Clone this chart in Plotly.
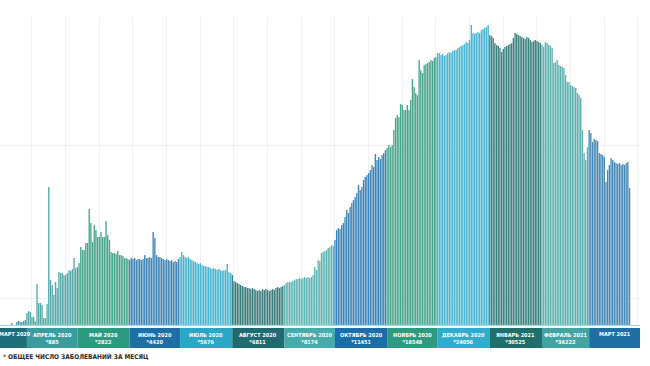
import pandas as pd
import plotly.graph_objects as go

# ---- daily values (arbitrary units) ----
mar20 = [2, 0, 0, 3, 4, 3, 3, 4, 5]  # from 23 March
apr20 = [12, 14, 13, 8, 8, 4, 41, 22, 22, 20, 7, 7, 21, 138, 45, 40, 30, 43, 37, 53,
         52, 52, 50, 50, 52, 55, 54, 56, 67, 57]
may20 = [58, 62, 78, 75, 75, 82, 82, 116, 102, 83, 100, 95, 88, 88, 93, 88, 88, 104, 90, 85,
         73, 72, 72, 71, 74, 70, 70, 69, 67, 67, 66]
jun20 = [65, 67, 66, 67, 65, 66, 66, 65, 66, 70, 67, 67, 68, 67, 93, 87, 70, 68, 68, 67,
         66, 65, 66, 65, 64, 65, 63, 64, 63, 66]
jul20 = [68, 73, 70, 68, 67, 68, 66, 65, 64, 63, 62, 61, 62, 60, 59, 59, 58, 58, 57, 56,
         57, 56, 55, 56, 55, 54, 55, 55, 61, 53, 52]
aug20 = [50, 44, 43, 42, 41, 40, 39, 38, 38, 37, 37, 36, 37, 36, 35, 34, 35, 34, 36, 35,
         36, 35, 34, 35, 36, 35, 37, 38, 37, 38, 39]
sep20 = [40, 42, 43, 43, 43, 44, 45, 46, 46, 47, 46, 47, 48, 47, 48, 47, 48, 50, 58, 55,
         65, 64, 72, 73, 74, 75, 77, 78, 80, 79]
oct20 = [85, 95, 97, 96, 100, 102, 108, 115, 112, 118, 122, 125, 128, 132, 140, 135, 138, 145, 148, 150,
         152, 155, 160, 158, 171, 165, 168, 166, 170, 172, 175]
nov20 = [177, 180, 178, 180, 195, 207, 210, 208, 221, 220, 215, 215, 220, 215, 225, 246, 238, 232, 230, 265,
         255, 252, 260, 261, 262, 263, 265, 264, 267, 268]
dec20 = [272, 272, 270, 271, 269, 270, 272, 273, 272, 274, 275, 275, 277, 278, 279, 280, 281, 283, 282, 285,
         300, 292, 291, 292, 293, 292, 295, 296, 297, 298, 300]
jan21 = [290, 289, 287, 282, 280, 279, 277, 273, 276, 278, 279, 280, 281, 282, 287, 292, 291, 290, 289, 288,
         287, 286, 288, 287, 285, 283, 284, 285, 284, 283, 282]
feb21 = [280, 278, 283, 282, 280, 279, 277, 262, 263, 265, 260, 259, 258, 257, 250, 243, 243, 240, 239, 238,
         237, 232, 230, 227, 195, 172, 165, 178]
mar21 = [195, 192, 183, 186, 185, 184, 172, 171, 170, 168, 143, 155, 160, 167, 165, 163, 162, 161, 162, 160,
         161, 160, 162, 163, 137]

series_starts = ["2020-03-23", "2020-04-01", "2020-05-01", "2020-06-01", "2020-07-01", "2020-08-01",
                 "2020-09-01", "2020-10-01", "2020-11-01", "2020-12-01", "2021-01-01", "2021-02-01",
                 "2021-03-01"]
series_values = [mar20, apr20, may20, jun20, jul20, aug20, sep20, oct20, nov20, dec20, jan21, feb21, mar21]

month_names = ["МАРТ 2020", "АПРЕЛЬ 2020", "МАЙ 2020", "ИЮНЬ 2020", "ИЮЛЬ 2020", "АВГУСТ 2020",
               "СЕНТЯБРЬ 2020", "ОКТЯБРЬ 2020", "НОЯБРЬ 2020", "ДЕКАБРЬ 2020", "ЯНВАРЬ 2021",
               "ФЕВРАЛЬ 2021", "МАРТ 2021"]
month_totals = ["", "*885", "*2822", "*4420", "*5676", "*6811", "*8174", "*11451", "*18548",
                "*24056", "*30525", "*36222", ""]
month_starts = ["2020-03-01", "2020-04-01", "2020-05-01", "2020-06-01", "2020-07-01", "2020-08-01",
                "2020-09-01", "2020-10-01", "2020-11-01", "2020-12-01", "2021-01-01", "2021-02-01",
                "2021-03-01", "2021-04-01"]

band_colors = ["#1e6d7b", "#3a9c9e", "#2d997f", "#1d6fa6", "#2aa6c6", "#1f6b6f", "#45abab",
               "#1b6ea7", "#2e9a7f", "#2eadcf", "#1f6e6b", "#44a4a4", "#1f6fa6"]
bar_colors = ["#3a8a95", "#43a0a0", "#349c7e", "#2c78ad", "#35adcb", "#276f6e", "#4eafab",
              "#2877b0", "#349c7f", "#37aece", "#287470", "#4caaa8", "#327bae"]

# ---- build daily bars ----
xs, ys, cs = [], [], []
for start, vals, col in zip(series_starts, series_values, bar_colors):
    d = pd.date_range(start, periods=len(vals), freq="D")
    xs += list(d)
    ys += vals
    cs += [col] * len(vals)

fig = go.Figure()
fig.add_trace(go.Bar(x=xs, y=ys, marker=dict(color=cs, line=dict(width=0.18, color="white")),
                     hoverinfo="x+y", showlegend=False))

# ---- month bands ----
ms = pd.to_datetime(month_starts)
mids = [ms[i] + (ms[i + 1] - ms[i]) / 2 for i in range(len(month_names))]
widths = [(ms[i + 1] - ms[i]).total_seconds() * 1000 for i in range(len(month_names))]
fig.add_trace(go.Bar(x=mids, y=[1] * len(mids), width=widths, base=0,
                     marker=dict(color=band_colors, line=dict(width=0)),
                     yaxis="y2", hoverinfo="skip", showlegend=False))

FONT = "DejaVu Sans Condensed, Liberation Sans Narrow, Arial Narrow, sans-serif"
x_start = pd.Timestamp("2020-03-16")
for name, tot, mid in zip(month_names, month_totals, mids):
    xm = max(mid, x_start + pd.Timedelta(days=9.0))
    if tot:
        fig.add_annotation(x=xm, y=0.5, xref="x", yref="y2", text=name + "<br>" + tot,
                           showarrow=False, font=dict(family=FONT, size=5.5, color="white", weight="bold"),
                           yanchor="middle", xanchor="center")
    else:
        fig.add_annotation(x=xm, y=0.7, xref="x", yref="y2", text=name,
                           showarrow=False, font=dict(family=FONT, size=5.5, color="white", weight="bold"),
                           yanchor="middle", xanchor="center")

fig.add_annotation(x=0.002, y=-0.027, xref="paper", yref="paper", xanchor="left", yanchor="middle",
                   text="<span style='color:#d3262b'>*</span> ОБЩЕЕ ЧИСЛО ЗАБОЛЕВАНИЙ ЗА МЕСЯЦ",
                   showarrow=False, font=dict(family=FONT, size=6.5, color="#2a2a2a", weight="bold"))

fig.update_layout(
    width=650, height=366,
    margin=dict(l=0, r=10, t=17, b=18),
    paper_bgcolor="white", plot_bgcolor="white",
    bargap=0.15,
    xaxis=dict(type="date", range=["2020-03-16", "2021-03-31 05:00"], showticklabels=False,
               showgrid=True, gridcolor="#efefef", gridwidth=1, tick0="2020-04-04",
               dtick=20 * 86400000, ticks="", zeroline=False,
               showline=True, linecolor="#9bd9e6", linewidth=1, anchor="y"),
    yaxis=dict(domain=[0.0695, 1], range=[0, 308], showticklabels=False, showgrid=True,
               gridcolor="#efefef", tickvals=[27, 180, 308], zeroline=False, ticks=""),
    yaxis2=dict(domain=[0, 0.0604], range=[0, 1], showticklabels=False, showgrid=False,
                zeroline=False, anchor="x"),
)

fig.write_html("out.html", config={"displayModeBar": False},
               post_script="document.body.style.margin='0';")
